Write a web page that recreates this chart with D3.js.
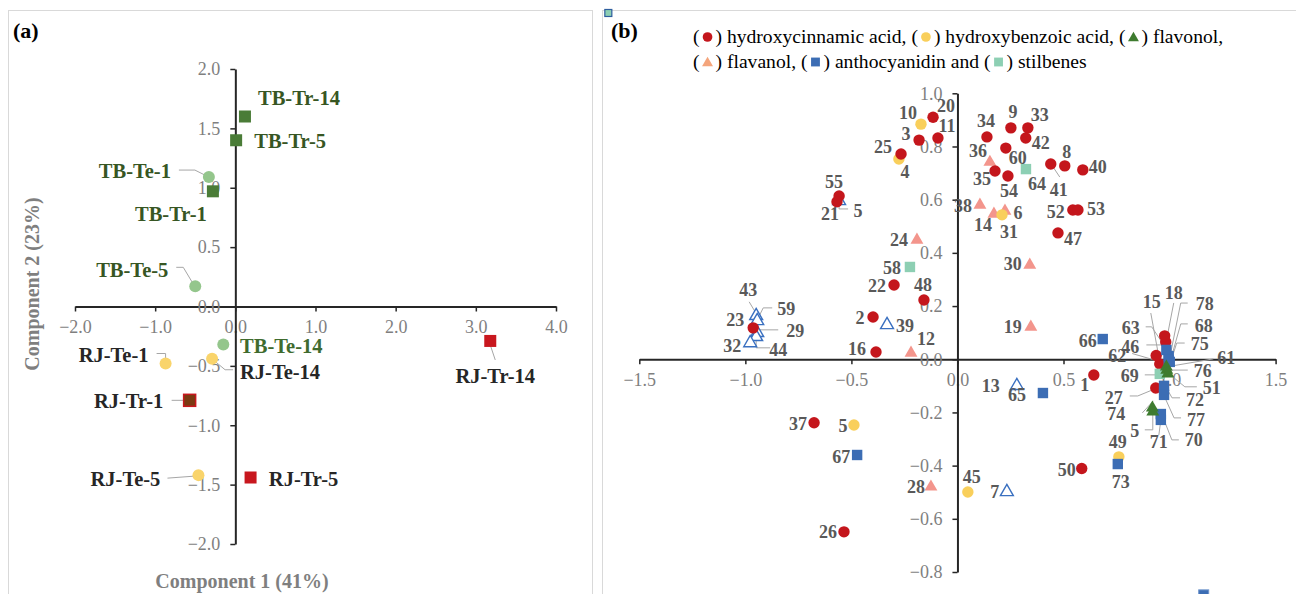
<!DOCTYPE html>
<html>
<head>
<meta charset="utf-8">
<script src="https://cdn.jsdelivr.net/npm/d3@7"></script>
<style>
  body { margin: 0; background: #fff; }
  svg { display: block; }
  text { font-family: "Liberation Serif", "Times New Roman", serif; }
</style>
</head>
<body>
<svg id="chart" width="1296" height="594"></svg>
<script>
// ---- panel (a): sample scores ----
const samplesA = ["TB-Tr-14", "TB-Tr-5", "TB-Te-1", "TB-Tr-1", "TB-Te-5", "TB-Te-14",
                  "RJ-Te-1", "RJ-Te-14", "RJ-Tr-1", "RJ-Te-5", "RJ-Tr-5", "RJ-Tr-14"];
const comp1A = [0.12, 0.01, -0.33, -0.28, -0.50, -0.15, -0.87, -0.29, -0.57, -0.46, 0.19, 3.18];
const comp2A = [1.60, 1.40, 1.09, 0.97, 0.17, -0.32, -0.48, -0.44, -0.79, -1.42, -1.44, -0.29];
const xTicksA = [-2, -1, 0, 1, 2, 3, 4];
const yTicksA = [-2, -1.5, -1, -0.5, 0, 0.5, 1, 1.5, 2];

// ---- panel (b): compound loadings [id, comp1, comp2] ----
const hydroxycinnamic = [
  ["15", 0.954, -0.018], ["18", 0.982, 0.065],
  ["20", -0.115, 0.910], ["11", -0.092, 0.832], ["3", -0.181, 0.824], ["25", -0.266, 0.772],
  ["55", -0.558, 0.614], ["21", -0.568, 0.592], ["34", 0.139, 0.836], ["9", 0.252, 0.870],
  ["33", 0.332, 0.870], ["42", 0.322, 0.832], ["60", 0.228, 0.794], ["41", 0.440, 0.734],
  ["8", 0.506, 0.727], ["40", 0.591, 0.712], ["35", 0.177, 0.708], ["54", 0.238, 0.689],
  ["52", 0.544, 0.561], ["53", 0.568, 0.561], ["47", 0.474, 0.475], ["22", -0.299, 0.279],
  ["48", -0.158, 0.223], ["2", -0.398, 0.159], ["16", -0.384, 0.027], ["23", -0.963, 0.118],
  ["37", -0.676, -0.239], ["26", -0.535, -0.649], ["1", 0.643, -0.059], ["50", 0.586, -0.411],
  ["63", 0.977, 0.088], ["62", 0.937, 0.014], ["27", 0.935, -0.108]
];
const hydroxybenzoic = [
  ["10", -0.172, 0.884], ["4", -0.276, 0.753], ["31", 0.210, 0.543],
  ["5", -0.488, -0.247], ["45", 0.049, -0.499], ["49", 0.761, -0.367]
];
const flavanol = [
  ["36", 0.153, 0.745], ["38", 0.106, 0.584], ["14", 0.172, 0.550], ["6", 0.224, 0.561],
  ["24", -0.191, 0.452], ["30", 0.341, 0.358], ["12", -0.219, 0.027], ["19", 0.346, 0.125],
  ["28", -0.125, -0.476]
];
const stilbenes = [["64", 0.323, 0.715], ["58", -0.224, 0.347], ["69", 0.954, -0.055]];
const anthocyanidin = [
  ["78", 0.996, 0.012], ["68", 1.001, -0.010], ["66", 0.685, 0.076], ["65", 0.403, -0.127],
  ["67", -0.473, -0.360], ["73", 0.756, -0.394], ["46", 0.985, 0.035], ["75", 0.996, -0.003],
  ["72", 0.974, -0.100], ["77", 0.974, -0.134], ["71", 0.959, -0.206], ["70", 0.959, -0.228]
];
const flavonol = [
  ["5", 0.921, -0.194], ["61", 0.985, -0.025], ["76", 0.987, -0.037], ["51", 0.992, -0.051],
  ["74", 0.919, -0.179]
];
const openTriangles = [
  ["5", -0.558, 0.599], ["43", -0.949, 0.167], ["59", -0.944, 0.148], ["29", -0.944, 0.103],
  ["44", -0.949, 0.088], ["32", -0.977, 0.065], ["39", -0.332, 0.133], ["13", 0.280, -0.096],
  ["7", 0.233, -0.495]
];
const strayMarks = [[-1.646, 1.302], [1.161, -0.886]];
const xTicksB = [-1.5, -1, -0.5, 0, 0.5, 1, 1.5];
const yTicksB = [-0.8, -0.6, -0.4, -0.2, 0, 0.2, 0.4, 0.6, 0.8, 1.0];

// ---- label layout (pixel offsets from the marker) ----
const labelPosA = {
  "TB-Tr-14": [54, -19], "TB-Tr-5": [54, 1], "TB-Te-1": [-74, -6], "TB-Tr-1": [-42, 23],
  "TB-Te-5": [-63, -16], "TB-Te-14": [58, 1], "RJ-Te-1": [-52, -9], "RJ-Te-14": [68, 13],
  "RJ-Tr-1": [-61, 1], "RJ-Te-5": [-73, 4], "RJ-Tr-5": [53, 1], "RJ-Tr-14": [5, 35]
};
const leaderA = {
  "TB-Te-1": [[-30, -7], [-14, -7], [-4, -2]],
  "TB-Te-5": [[-19, -19], [-12, -19], [-3, -4]],
  "RJ-Te-1": [[-9, -10], [0, -10], [0, -4]],
  "RJ-Te-14": [[21, 11], [13, 11], [1, 1]],
  "RJ-Tr-1": [[-18, 0], [-4, 0]],
  "RJ-Te-5": [[-31, 3], [-4, 1]],
  "RJ-Tr-14": [[0, 4], [5, 19]]
};
const labelPosB = {
  "hc:15": [-8, -62], "hc:18": [8, -49], "hc:20": [13, -12], "hc:11": [9, -12], "hc:3": [-13, -6],
  "hc:25": [-18, -7], "hc:55": [-5, -14], "hc:21": [-7, 12], "hc:34": [-1, -16], "hc:9": [2, -16],
  "hc:33": [12, -13], "hc:42": [15, 5], "hc:60": [12, 10], "hc:41": [8, 26], "hc:8": [2, -14],
  "hc:40": [15, -3], "hc:35": [-13, 8], "hc:54": [1, 15], "hc:52": [-17, 2], "hc:53": [18, -1],
  "hc:47": [15, 6], "hc:22": [-17, 1], "hc:48": [-1, -15], "hc:2": [-13, 1], "hc:16": [-19, -3],
  "hc:23": [-18, -8], "hc:37": [-16, 1], "hc:26": [-16, 0], "hc:1": [-9, 10], "hc:50": [-15, 1],
  "hc:63": [-34, -8], "hc:62": [-39, 0], "hc:27": [-42, 10],
  "hb:10": [-13, -11], "hb:4": [6, 13], "hb:31": [7, 17], "hb:5": [-11, 1], "hb:45": [4, -15], "hb:49": [-1, -15],
  "fl:36": [-12, -10], "fl:38": [-17, 2], "fl:14": [-11, 12], "fl:6": [13, 3], "fl:24": [-18, 1],
  "fl:30": [-17, 0], "fl:12": [15, -13], "fl:19": [-18, 1], "fl:28": [-15, 1],
  "st:64": [11, 15], "st:58": [-18, 1], "st:69": [-30, 2],
  "an:78": [36, -52], "an:68": [34, -36], "an:66": [-15, 2], "an:65": [-26, 2], "an:67": [-16, 2],
  "an:73": [3, 18], "an:46": [-36, -3], "an:75": [31, -16], "an:72": [31, 14], "an:77": [32, 25],
  "an:71": [-2, 28], "an:70": [33, 20],
  "fo:5": [-18, 20], "fo:61": [60, -8], "fo:76": [36, 2], "fo:51": [44, 15], "fo:74": [-36, 7],
  "op:5": [19, 11], "op:43": [-8, -25], "op:59": [29, -11], "op:29": [38, -1], "op:44": [22, 14],
  "op:32": [-18, 4], "op:39": [18, 2], "op:13": [-26, 1], "op:7": [-12, 1]
};
const leaderB = {
  "hc:15": [[-9, -51], [0, -2]], "hc:18": [[8, -39], [1, -3]], "hc:41": [[9, 13], [1, 1]],
  "hc:63": [[-19, -9], [-13, -9], [-3, 6]], "hc:62": [[-24, -2], [0, 5]],
  "hc:27": [[-26, 8], [-18, 8], [-1, 1]],
  "st:69": [[-15, 1], [-2, 1]],
  "an:78": [[19, -53], [12, -53], [1, 2]], "an:68": [[18, -38], [11, -38], [0, 1]],
  "an:46": [[-20, -5], [-5, -5]], "an:75": [[16, -17], [8, -17], [1, 5]],
  "an:72": [[16, 12], [8, 12], [-1, -4]], "an:77": [[17, 23], [10, 23], [1, 3]],
  "an:71": [[-2, 21], [0, 6]], "an:70": [[18, 20], [11, 20], [2, -3]],
  "fo:5": [[-8, 19], [0, 19], [0, 3]], "fo:61": [[47, -7], [0, 1]], "fo:76": [[21, 1], [1, 1]],
  "fo:51": [[29, 14], [17, 14], [0, 0]], "fo:74": [[-10, 6], [1, -6]],
  "op:5": [[0, -3], [0, 9], [9, 9]], "op:43": [[-7, -13], [-1, -3]],
  "op:59": [[15, -12], [6, -12], [1, -2]], "op:29": [[21, -2], [2, -2]],
  "op:44": [[14, 12], [0, 12], [0, 1]]
};

const svg = d3.select("#chart");
const tickGray = "#7f7f7f";
const leaderGray = "#a6a6a6";

// panel frames
svg.append("rect").attr("x", 8.5).attr("y", 10.5).attr("width", 584).attr("height", 600)
  .attr("fill", "none").attr("stroke", "#d9d9d9");
svg.append("rect").attr("x", 602.5).attr("y", 10.5).attr("width", 720).attr("height", 600)
  .attr("fill", "none").attr("stroke", "#d9d9d9");

function drawAxes(x, y, xt, yt) {
  const g = svg.append("g");
  g.append("g").attr("transform", `translate(0,${y(0)})`)
    .call(d3.axisBottom(x).tickValues(xt).tickFormat(d3.format(".1f"))
      .tickSize(5).tickSizeOuter(0).tickPadding(9));
  g.append("g").attr("transform", `translate(${x(0)},0)`)
    .call(d3.axisLeft(y).tickValues(yt).tickFormat(d3.format(".1f"))
      .tickSize(5).tickSizeOuter(0).tickPadding(10));
  g.selectAll(".domain").attr("stroke", "#262626").attr("stroke-width", 2);
  g.selectAll(".tick line").attr("stroke", "#262626").attr("stroke-width", 1.5);
  g.selectAll(".tick text").attr("fill", tickGray).attr("font-size", 18)
    .attr("font-family", "'Liberation Serif', 'Times New Roman', serif");
}

function leader(pts, cx, cy) {
  svg.append("path")
    .attr("d", d3.line()(pts.map(p => [cx + p[0], cy + p[1]])))
    .attr("fill", "none").attr("stroke", leaderGray).attr("stroke-width", 1);
}

// ================= panel (a) =================
svg.append("text").attr("x", 13).attr("y", 38).attr("font-size", 22).attr("font-weight", "bold")
  .text("(a)");

const xA = d3.scaleLinear().domain([-2, 4]).range([75, 556]);
const yA = d3.scaleLinear().domain([-2, 2]).range([544, 69]);
drawAxes(xA, yA, xTicksA, yTicksA);

svg.append("text").attr("x", 242).attr("y", 588).attr("text-anchor", "middle")
  .attr("font-size", 20).attr("font-weight", "bold").attr("fill", tickGray)
  .text("Component 1 (41%)");
svg.append("text").attr("transform", "translate(39,284) rotate(-90)").attr("text-anchor", "middle")
  .attr("font-size", 20).attr("font-weight", "bold").attr("fill", tickGray)
  .text("Component 2 (23%)");

const styleA = name => {
  if (name === "RJ-Tr-1") return { shape: "square", fill: "#7b3a12", stroke: "#c8171e" };
  if (name.startsWith("TB-Tr")) return { shape: "square", fill: "#4a7c37" };
  if (name.startsWith("TB-Te")) return { shape: "circle", fill: "#94c68c" };
  if (name.startsWith("RJ-Te")) return { shape: "circle", fill: "#f9d46b" };
  return { shape: "square", fill: "#c8171e" };
};

samplesA.forEach((name, i) => {
  const cx = xA(comp1A[i]), cy = yA(comp2A[i]);
  if (leaderA[name]) leader(leaderA[name], cx, cy);
});
samplesA.forEach((name, i) => {
  const cx = xA(comp1A[i]), cy = yA(comp2A[i]);
  const s = styleA(name);
  if (s.shape === "circle") {
    svg.append("circle").attr("cx", cx).attr("cy", cy).attr("r", 6).attr("fill", s.fill);
  } else {
    svg.append("rect").attr("x", cx - 6).attr("y", cy - 6).attr("width", 12).attr("height", 12)
      .attr("fill", s.fill).attr("stroke", s.stroke || "none").attr("stroke-width", 1.5);
  }
  const off = labelPosA[name];
  svg.append("text").attr("x", cx + off[0]).attr("y", cy + off[1]).attr("dy", "0.35em")
    .attr("text-anchor", "middle").attr("font-size", 20.5).attr("font-weight", "bold")
    .attr("fill", name === "TB-Te-14" ? "#3f6b2e" : name.startsWith("TB") ? "#375623" : "#262626")
    .text(name);
});

// ================= panel (b) =================
svg.append("text").attr("x", 611).attr("y", 38).attr("font-size", 22).attr("font-weight", "bold")
  .text("(b)");

const xB = d3.scaleLinear().domain([-1.5, 1.5]).range([639.3, 1275.6]);
const yB = d3.scaleLinear().domain([-0.8, 1.0]).range([572, 93.3]);
drawAxes(xB, yB, xTicksB, yTicksB);

const colorB = {
  hc: "#c4161c", hb: "#f9cf5b", fl: "#f3958c", st: "#8dcfb3",
  an: "#3c6db4", fo: "#3e7b2f", op: "#3a70c0", flLegend: "#f4a57c"
};

function markerB(kind, cx, cy, color, scale = 1) {
  if (kind === "circle") {
    svg.append("circle").attr("cx", cx).attr("cy", cy).attr("r", 5.7 * scale).attr("fill", color);
  } else if (kind === "square") {
    const h = 5.2 * scale;
    svg.append("rect").attr("x", cx - h).attr("y", cy - h).attr("width", 2 * h).attr("height", 2 * h)
      .attr("fill", color);
  } else if (kind === "triangle" || kind === "open") {
    svg.append("path").attr("transform", `translate(${cx},${cy + 1})`)
      .attr("d", d3.symbol().type(d3.symbolTriangle).size(72 * scale * scale)())
      .attr("fill", kind === "open" ? "#fff" : color)
      .attr("stroke", kind === "open" ? color : "none").attr("stroke-width", 1.4);
  }
}

const seriesB = [
  ["op", "open", openTriangles], ["fl", "triangle", flavanol], ["hb", "circle", hydroxybenzoic],
  ["hc", "circle", hydroxycinnamic], ["st", "square", stilbenes], ["an", "square", anthocyanidin],
  ["fo", "triangle", flavonol]
];

// stray markers sitting on the frame
svg.append("rect").attr("x", xB(strayMarks[0][0]) - 3.5).attr("y", yB(strayMarks[0][1]) - 3.5)
  .attr("width", 7).attr("height", 7).attr("fill", colorB.st).attr("stroke", "#2e5e9e").attr("stroke-width", 1.2);
svg.append("rect").attr("x", xB(strayMarks[1][0]) - 5).attr("y", yB(strayMarks[1][1]) - 5)
  .attr("width", 10).attr("height", 10).attr("fill", colorB.an).attr("stroke", "#6f95cc").attr("stroke-width", 1);

// leaders first, then markers, then labels
seriesB.forEach(([key, , rows]) => {
  rows.forEach(r => {
    const k = key + ":" + r[0];
    if (leaderB[k]) leader(leaderB[k], xB(r[1]), yB(r[2]));
  });
});
seriesB.forEach(([key, kind, rows]) => {
  rows.forEach(r => markerB(kind, xB(r[1]), yB(r[2]), colorB[key]));
});
seriesB.forEach(([key, , rows]) => {
  rows.forEach(r => {
    const off = labelPosB[key + ":" + r[0]] || [0, -14];
    svg.append("text").attr("x", xB(r[1]) + off[0]).attr("y", yB(r[2]) + off[1]).attr("dy", "0.35em")
      .attr("text-anchor", "middle").attr("font-size", 18).attr("font-weight", "bold")
      .attr("fill", "#595959").text(r[0]);
  });
});

// legend
const legendRows = [
  ["(", { kind: "circle", color: colorB.hc }, ") hydroxycinnamic acid, (", { kind: "circle", color: colorB.hb },
   ") hydroxybenzoic acid, (", { kind: "triangle", color: colorB.fo }, ") flavonol,"],
  ["(", { kind: "triangle", color: colorB.flLegend }, ") flavanol, (", { kind: "square", color: colorB.an },
   ") anthocyanidin and (", { kind: "square", color: colorB.st }, ") stilbenes"]
];
legendRows.forEach((row, li) => {
  let cx = 693;
  const base = 43 + li * 25;
  row.forEach(item => {
    if (typeof item === "string") {
      const t = svg.append("text").attr("x", cx).attr("y", base).attr("font-size", 19.6)
        .style("white-space", "pre").attr("fill", "#000").text(item);
      cx += t.node().getComputedTextLength();
    } else {
      markerB(item.kind, cx + 8, base - 6, item.color, 0.85);
      cx += 16;
    }
  });
});
</script>
</body>
</html>
